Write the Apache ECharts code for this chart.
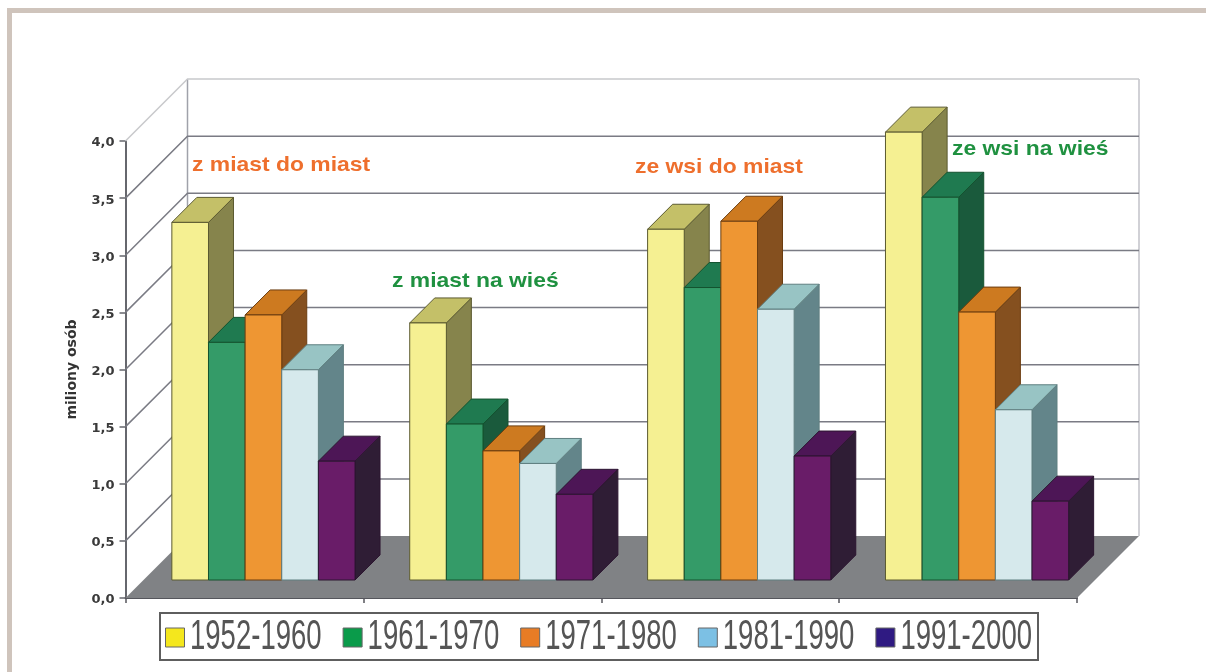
<!DOCTYPE html>
<html>
<head>
<meta charset="utf-8">
<title>Migracje</title>
<script src="https://cdn.jsdelivr.net/npm/echarts@6/dist/echarts.min.js"></script>
<style>
  html, body { margin: 0; padding: 0; background: #fff; }
  #chart { width: 1206px; height: 672px; }
</style>
</head>
<body>
<div id="chart"></div>
<script>
const categories = ["z miast do miast", "z miast na wieś", "ze wsi do miast", "ze wsi na wieś"];
const yTicks = [0, 0.5, 1, 1.5, 2, 2.5, 3, 3.5, 4];
const periods = ["1952-1960", "1961-1970", "1971-1980", "1981-1990", "1991-2000"];

const v1952 = [3.13, 2.25, 3.07, 3.92];
const v1961 = [2.08, 1.365, 2.56, 3.35];
const v1971 = [2.32, 1.13, 3.14, 2.345];
const v1981 = [1.84, 1.02, 2.37, 1.49];
const v1991 = [1.04, 0.75, 1.085, 0.69];
const values = [v1952, v1961, v1971, v1981, v1991];

// legend swatches do not use the same colours as the bars in the original
const legendColors = ["#f4e71d", "#0a9b4a", "#e87c25", "#7cc0e4", "#2f1a82"];
const faces = [
  { front: "#f5f092", top: "#c4c068", side: "#86844c", line: "#5b5a30" },
  { front: "#349b68", top: "#1f7a50", side: "#1a5a3c", line: "#14532f" },
  { front: "#ee9633", top: "#cd7a20", side: "#85501f", line: "#6b3d10" },
  { front: "#d6e9ec", top: "#98c4c4", side: "#63858a", line: "#5f7f80" },
  { front: "#691c68", top: "#4d1656", side: "#2f1d35", line: "#2c1530" }
];

const WALL_DEPTH = 62;  // how far the back wall sits behind the axes
const BAR_OFFSET = 18;  // bars stand this far back from the front of the floor
const BAR_DEPTH = 25;
const BAR_SHARE = 0.154; // one bar as a share of the category band

function poly(points, style) {
  return { type: "polygon", shape: { points: points }, style: style };
}

function renderWall(params, api) {
  const cs = params.coordSys;
  const v = api.value(0);
  const y = api.coord([0, v])[1];
  const left = cs.x, right = cs.x + cs.width, d = WALL_DEPTH;
  const isTop = v === yTicks[yTicks.length - 1];
  const children = [];
  if (v === 0) {
    const topY = api.coord([0, yTicks[yTicks.length - 1]])[1] - d;
    children.push(poly(
      [[left, y], [right, y], [right + d, y - d], [left + d, y - d]],
      { fill: "#808285" }
    ));
    children.push({
      type: "line",
      shape: { x1: left + d, y1: y - d, x2: left + d, y2: topY },
      style: { stroke: "#a0a2aa", lineWidth: 1.5 }
    });
    children.push({
      type: "line",
      shape: { x1: right + d, y1: y - d, x2: right + d, y2: topY },
      style: { stroke: "#c2c2c8", lineWidth: 1.5 }
    });
  } else {
    const stroke = isTop ? "#c8c9cc" : "#7a7b84";
    children.push({
      type: "polyline",
      shape: { points: [[left, y], [left + d, y - d], [right + d, y - d]] },
      style: { stroke: stroke, lineWidth: 1.5, fill: null }
    });
  }
  return { type: "group", children: children };
}

function makeBarRenderer(s) {
  return function (params, api) {
    const cat = api.value(0);
    const top = api.coord([cat, api.value(1)]);
    const base = api.coord([cat, 0]);
    const band = api.size([1, 0])[0];
    const w = band * BAR_SHARE;
    const x0 = top[0] - (w * periods.length) / 2 + s * w + BAR_OFFSET + 1;
    const x1 = x0 + w;
    const yt = top[1] - BAR_OFFSET;
    const yb = base[1] - BAR_OFFSET;
    const d = BAR_DEPTH;
    const f = faces[s];
    return {
      type: "group",
      children: [
        poly([[x1, yt], [x1 + d, yt - d], [x1 + d, yb - d], [x1, yb]], { fill: f.side, stroke: f.line, lineWidth: 1 }),
        poly([[x0, yt], [x0 + d, yt - d], [x1 + d, yt - d], [x1, yt]], { fill: f.top, stroke: f.line, lineWidth: 1 }),
        poly([[x0, yt], [x1, yt], [x1, yb], [x0, yb]], { fill: f.front, stroke: f.line, lineWidth: 1 })
      ]
    };
  };
}

const barSeries = periods.map(function (name, s) {
  return {
    name: name,
    type: "custom",
    renderItem: makeBarRenderer(s),
    encode: { x: 0, y: 1 },
    data: values[s].map(function (v, c) { return [c, v]; }),
    z: 3 + s
  };
});

const annotationStyle = [
  { x: 192, y: 165, fill: "#ee6f2d" },
  { x: 392, y: 281, fill: "#1f9140" },
  { x: 635, y: 167, fill: "#ee6f2d" },
  { x: 952, y: 149, fill: "#1f9140" }
];

const annotations = categories.map(function (c, i) {
  return {
    type: "text",
    z: 100,
    x: annotationStyle[i].x,
    y: annotationStyle[i].y,
    scaleX: 1.09,
    style: {
      text: c,
      fill: annotationStyle[i].fill,
      verticalAlign: "middle",
      font: "bold 21px 'Liberation Sans'"
    }
  };
});

// drawn by hand: the original's legend text is tall and squeezed, legend.textStyle cannot do that
const legendItems = [
  { type: "rect", z: 100, shape: { x: 160, y: 613, width: 878, height: 47 }, style: { fill: "#fff", stroke: "#5e5e5e", lineWidth: 2 } }
];
periods.forEach(function (p, i) {
  legendItems.push({
    type: "rect",
    z: 101,
    shape: { x: 165.5 + i * 177.6, y: 628, width: 19, height: 19 },
    style: { fill: legendColors[i], stroke: "#666", lineWidth: 1 }
  });
  legendItems.push({
    type: "text",
    z: 101,
    x: 190 + i * 177.6,
    y: 637,
    scaleX: 0.64,
    style: {
      text: p,
      fill: "#555",
      verticalAlign: "middle",
      font: "43px 'Liberation Sans'"
    }
  });
});

const chart = echarts.init(document.getElementById("chart"));
chart.setOption({
  animation: false,
  backgroundColor: "#fff",
  grid: { left: 125.5, right: 129, top: 141, bottom: 74 },
  xAxis: {
    type: "category",
    data: categories,
    axisLine: { lineStyle: { color: "#55565c", width: 2 } },
    axisTick: { show: true, length: 5, lineStyle: { color: "#55565c", width: 1.5 } },
    axisLabel: { show: false },
    splitLine: { show: false }
  },
  yAxis: {
    type: "value",
    min: 0,
    max: 4,
    interval: 0.5,
    name: "miliony osób",
    nameLocation: "middle",
    nameGap: 46,
    nameTextStyle: { fontFamily: "DejaVu Sans", fontWeight: "bold", fontSize: 14, color: "#333" },
    axisLine: { show: true, lineStyle: { color: "#66676d", width: 2 } },
    axisTick: { show: true, length: 6, lineStyle: { color: "#66676d", width: 1.5 } },
    axisLabel: {
      margin: 11,
      verticalAlign: "top",
      lineHeight: 4, // nudges the labels down onto their ticks
      fontFamily: "DejaVu Sans",
      fontWeight: "bold",
      fontSize: 13,
      color: "#3a3a3a",
      formatter: function (v) { return v.toFixed(1).replace(".", ","); }
    },
    splitLine: { show: false }
  },
  graphic: [
    { type: "rect", shape: { x: 7, y: 8, width: 1199, height: 5 }, style: { fill: "#cfc4bc" }, silent: true },
    { type: "rect", shape: { x: 7, y: 8, width: 5, height: 664 }, style: { fill: "#cfc4bc" }, silent: true }
  ].concat(annotations, legendItems),
  series: [
    {
      type: "custom",
      renderItem: renderWall,
      encode: { x: 1, y: 0 },
      data: yTicks.map(function (t) { return [t, 0]; }),
      silent: true,
      z: 1
    }
  ].concat(barSeries)
});
</script>
</body>
</html>
